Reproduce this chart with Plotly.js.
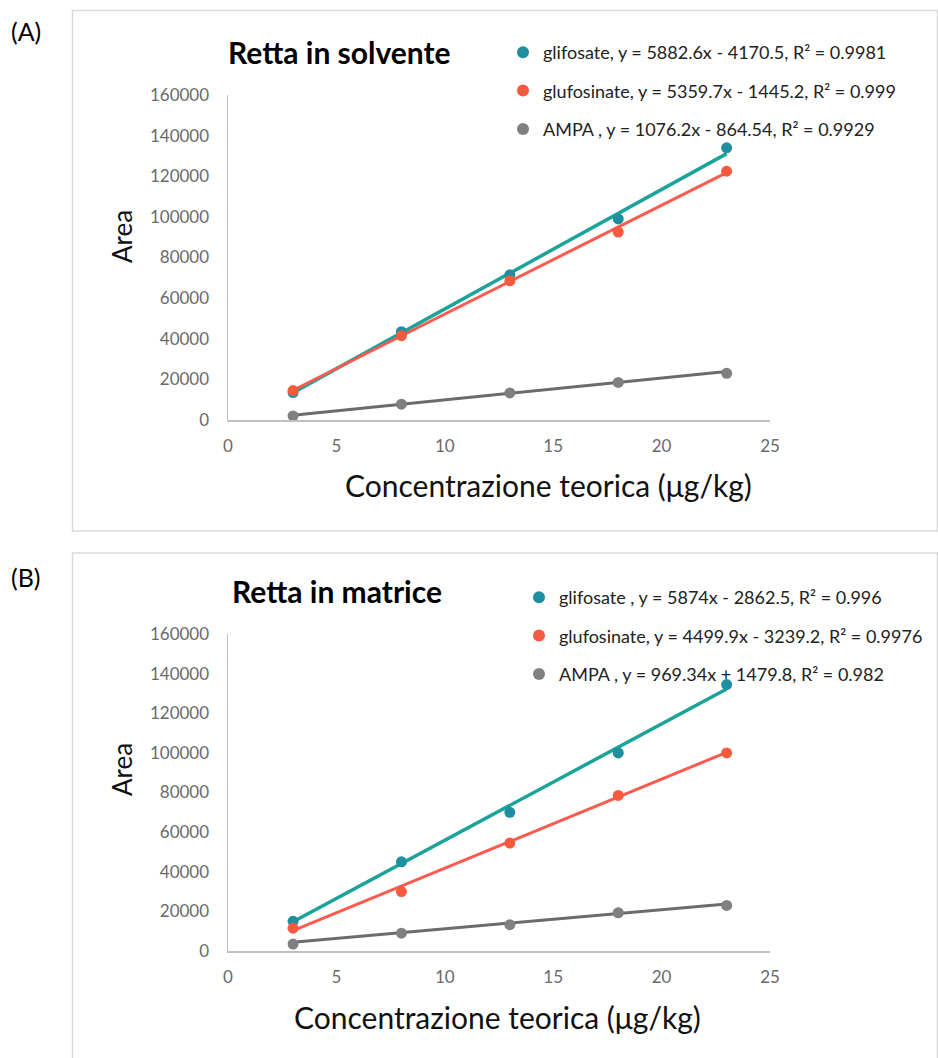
<!DOCTYPE html>
<html>
<head>
<meta charset="utf-8">
<script src="https://cdn.plot.ly/plotly-3.0.1.min.js"></script>
<style>html,body{margin:0;padding:0;background:#fff;}#chart{width:938px;height:1058px;}</style>
</head>
<body>
<div id="chart"></div>
<script>
// ---- data ----
const conc = [3, 8, 13, 18, 23];
const seriesNames = ["glifosate", "glufosinate", "AMPA"];

// Panel A: Retta in solvente
const solvGlifosate   = [13500, 43500, 71500, 99000, 134000];
const solvGlufosinate = [14500, 41500, 68500, 92500, 122500];
const solvAMPA        = [2000, 7800, 13300, 18500, 23000];
const solvSlope     = [5882.6, 5359.7, 1076.2];
const solvIntercept = [-4170.5, -1445.2, -864.54];
const solvLegend = [
  "glifosate, y = 5882.6x - 4170.5, R² = 0.9981",
  "glufosinate, y = 5359.7x - 1445.2, R² = 0.999",
  "AMPA , y = 1076.2x - 864.54, R² = 0.9929"
];

// Panel B: Retta in matrice
const matGlifosate   = [15000, 45000, 70000, 100000, 134500];
const matGlufosinate = [11500, 30000, 54500, 78500, 100000];
const matAMPA        = [3500, 9000, 13300, 19300, 23000];
const matSlope     = [5874, 4499.9, 969.34];
const matIntercept = [-2862.5, -3239.2, 1479.8];
const matLegend = [
  "glifosate , y = 5874x - 2862.5, R² = 0.996",
  "glufosinate, y = 4499.9x - 3239.2, R² = 0.9976",
  "AMPA , y = 969.34x + 1479.8, R² = 0.982"
];

const xTicks = [0, 5, 10, 15, 20, 25];
const yTicks = [0, 20000, 40000, 60000, 80000, 100000, 120000, 140000, 160000];
const xTitle = "Concentrazione teorica (μg/kg)";
const yTitle = "Area";

// ---- styling ----
const W = 938, H = 1058;
const px = v => v / W;
const py = v => 1 - v / H;
const markerColors = ["#1f8fa0", "#f45b3e", "#808080"];
const lineColors   = ["#1aa39a", "#ff5a50", "#6b6b6b"];
const lineWidths   = [3.5, 3, 3];
const FONT = "Lato, 'Open Sans', sans-serif";

const traces = [];
function addPanel(seriesData, slopes, intercepts, labels, xa, ya, legendId) {
  const trendX = [conc[0], conc[conc.length - 1]];
  seriesData.forEach((ys, i) => {
    traces.push({
      x: trendX,
      y: trendX.map(v => slopes[i] * v + intercepts[i]),
      xaxis: xa, yaxis: ya, mode: "lines", type: "scatter",
      line: {color: lineColors[i], width: lineWidths[i]},
      showlegend: false, hoverinfo: "skip"
    });
  });
  seriesData.forEach((ys, i) => {
    traces.push({
      x: conc, y: ys, xaxis: xa, yaxis: ya, mode: "markers", type: "scatter",
      name: labels[i], legend: legendId, legendgroup: legendId + i,
      marker: {color: markerColors[i], size: 11}
    });
  });
}
addPanel([solvGlifosate, solvGlufosinate, solvAMPA], solvSlope, solvIntercept, solvLegend, "x", "y", "legend");
addPanel([matGlifosate, matGlufosinate, matAMPA], matSlope, matIntercept, matLegend, "x2", "y2", "legend2");

function xAxis(anchor, dom) {
  return {
    domain: dom, anchor: anchor, range: [0, 25], tickvals: xTicks,
    showgrid: false, zeroline: false, showline: true, linecolor: "#bfbfbf", linewidth: 1.5,
    ticks: "", ticklabelstandoff: 10, tickfont: {family: FONT, size: 17, color: "#6a6a6a"}
  };
}
function yAxis(anchor, dom) {
  return {
    domain: dom, anchor: anchor, range: [0, 160000], tickvals: yTicks, tickformat: "d",
    showgrid: false, zeroline: false, showline: true, linecolor: "#bfbfbf", linewidth: 1.5,
    ticks: "", ticklabelstandoff: 14, tickfont: {family: FONT, size: 17, color: "#6a6a6a"}
  };
}

const legendBase = {
  font: {family: FONT, size: 18, color: "#222"},
  bgcolor: "rgba(0,0,0,0)", borderwidth: 0, tracegroupgap: 12,
  xanchor: "left", yanchor: "top", itemsizing: "constant"
};

function txt(text, x, y, size, opts) {
  return Object.assign({text: text, xref: "paper", yref: "paper", x: px(x), y: py(y),
    xanchor: "left", yanchor: "middle", showarrow: false,
    font: {family: FONT, size: size, color: "#000"}}, opts || {});
}

const layout = {
  width: W, height: H, margin: {l: 0, r: 0, t: 0, b: 0},
  paper_bgcolor: "#fff", plot_bgcolor: "#fff",
  font: {family: FONT},
  xaxis: xAxis("y", [px(228), px(770)]),
  yaxis: yAxis("x", [py(420), py(95)]),
  xaxis2: xAxis("y2", [px(228), px(770)]),
  yaxis2: yAxis("x2", [py(951), py(634)]),
  legend: Object.assign({}, legendBase, {x: px(503), y: py(34)}),
  legend2: Object.assign({}, legendBase, {x: px(519), y: py(579)}),
  shapes: [
    {type: "rect", xref: "paper", yref: "paper", x0: px(72.5), x1: px(937.5), y0: py(531), y1: py(10.5), line: {color: "#d9d9d9", width: 1.5}},
    {type: "rect", xref: "paper", yref: "paper", x0: px(72.5), x1: px(937.5), y0: py(1070), y1: py(553), line: {color: "#d9d9d9", width: 1.5}}
  ],
  annotations: [
    txt("(A)", 9, 31, 25),
    txt("(B)", 9, 577, 25),
    txt("<b>Retta in solvente</b>", 226, 52, 30),
    txt("<b>Retta in matrice</b>", 230, 591, 30),
    txt(xTitle, 548, 485, 30, {xanchor: "center", font: {family: FONT, size: 30, color: "#111"}}),
    txt(xTitle, 498, 1017, 30, {xanchor: "center", font: {family: FONT, size: 30, color: "#111"}}),
    txt(yTitle, 122, 237, 26, {xanchor: "center", textangle: -90, font: {family: FONT, size: 26, color: "#111"}}),
    txt(yTitle, 122, 770, 26, {xanchor: "center", textangle: -90, font: {family: FONT, size: 26, color: "#111"}})
  ]
};

Plotly.newPlot("chart", traces, layout, {displayModeBar: false, staticPlot: true});
</script>
</body>
</html>
